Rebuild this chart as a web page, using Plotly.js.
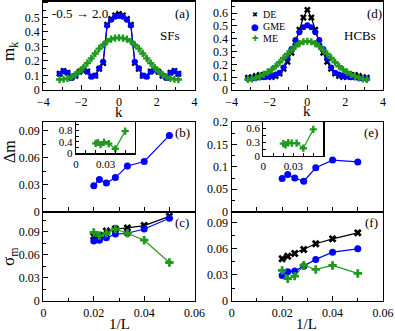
<!DOCTYPE html>
<html>
<head>
<meta charset="utf-8">
<script src="https://cdn.plot.ly/plotly-3.0.1.min.js"></script>
<style>
  body { margin: 0; background: white; }
  #plot { width: 395px; height: 331px; }
</style>
</head>
<body>
<div id="plot"></div>
<script>
// momentum grid k (2*pi*j/L)
const k = [-3.1416,-2.9322,-2.7227,-2.5133,-2.3038,-2.0944,-1.8850,-1.6755,-1.4661,-1.2566,-1.0472,-0.8378,-0.6283,-0.4189,-0.2094,0,
           0.2094,0.4189,0.6283,0.8378,1.0472,1.2566,1.4661,1.6755,1.8850,2.0944,2.3038,2.5133,2.7227,2.9322,3.1416];

// panel (a): SFs, m_k
const sfDE  = [0.112,0.132,0.120,0.085,0.098,0.125,0.138,0.128,0.095,0.098,0.145,0.185,0.450,0.490,0.515,0.525,
               0.515,0.490,0.450,0.185,0.145,0.098,0.095,0.128,0.138,0.125,0.098,0.085,0.120,0.132,0.112];
const sfGME = [0.110,0.130,0.118,0.082,0.100,0.128,0.140,0.125,0.092,0.100,0.150,0.195,0.445,0.485,0.505,0.510,
               0.505,0.485,0.445,0.195,0.150,0.100,0.092,0.125,0.140,0.128,0.100,0.082,0.118,0.130,0.110];
const sfME  = [0.072,0.074,0.080,0.090,0.106,0.128,0.155,0.185,0.218,0.252,0.285,0.312,0.335,0.350,0.357,0.360,
               0.357,0.350,0.335,0.312,0.285,0.252,0.218,0.185,0.155,0.128,0.106,0.090,0.080,0.074,0.072];

// panel (d): HCBs, m_k
const hcbDE  = [0.096,0.100,0.110,0.118,0.112,0.102,0.100,0.108,0.128,0.165,0.220,0.290,0.370,0.470,0.565,0.625,
                0.565,0.470,0.370,0.290,0.220,0.165,0.128,0.108,0.100,0.102,0.112,0.118,0.110,0.100,0.096];
const hcbGME = [0.088,0.090,0.093,0.097,0.100,0.105,0.110,0.120,0.135,0.175,0.245,0.320,0.390,0.450,0.490,0.505,
                0.490,0.450,0.390,0.320,0.245,0.175,0.135,0.120,0.110,0.105,0.100,0.097,0.093,0.090,0.088];
const hcbME  = [0.082,0.087,0.095,0.107,0.122,0.140,0.160,0.185,0.216,0.250,0.282,0.312,0.340,0.362,0.376,0.380,
                0.376,0.362,0.340,0.312,0.282,0.250,0.216,0.185,0.160,0.140,0.122,0.107,0.095,0.087,0.082];

// 1/L for L = 50, 45, 40, 35, 30, 25, 20
const invL = [0.02, 0.02222, 0.025, 0.02857, 0.03333, 0.04, 0.05];

// panels (b), (e): Delta m (main = GME, inset = ME)
const dmSF_GME  = [0.029, 0.036, 0.032, 0.038, 0.051, 0.056, 0.085];
const dmSF_ME   = [0.35, 0.38, 0.30, 0.39, 0.34, 0.16, 0.78];
const dmHCB_GME = [0.074, 0.083, 0.075, 0.068, 0.098, 0.115, 0.111];
const dmHCB_ME  = [0.27, 0.24, 0.29, 0.28, 0.28, 0.17, 0.58];

// panels (c), (f): sigma_m
const sigSF_DE   = [0.084, 0.085, 0.091, 0.0935, 0.095, 0.098, 0.110];
const sigSF_GME  = [0.078, 0.079, 0.082, 0.087, 0.088, 0.0935, 0.1075];
const sigSF_ME   = [0.089, 0.085, 0.088, 0.0935, 0.088, 0.079, 0.050];
const sigHCB_DE  = [0.0487, 0.0517, 0.0548, 0.0594, 0.066, 0.0717, 0.0786];
const sigHCB_GME = [0.0295, 0.0338, 0.0345, 0.0402, 0.048, 0.0563, 0.0602];
const sigHCB_ME  = [0.0353, 0.0257, 0.0287, 0.0414, 0.0364, 0.041, 0.0318];

const BLACK = '#000000', BLUE = '#0000ff', GREEN = '#1f991f';
const FONT = 'Liberation Serif, Times New Roman, serif';

function series(x, y, color, symbol, size, xa, ya) {
    return {
        x: x, y: y, xaxis: xa, yaxis: ya, mode: 'lines+markers', showlegend: false,
        line: {color: color, width: 1.2},
        marker: {color: color, symbol: symbol, size: size, line: {width: 0}}
    };
}

const data = [
    series(k, sfDE, BLACK, 'x', 6, 'x', 'y'),
    series(k, sfGME, BLUE, 'circle', 6, 'x', 'y'),
    series(k, sfME, GREEN, 'cross', 6, 'x', 'y'),
    series(k, hcbDE, BLACK, 'x', 6, 'x2', 'y2'),
    series(k, hcbGME, BLUE, 'circle', 6, 'x2', 'y2'),
    series(k, hcbME, GREEN, 'cross', 6, 'x2', 'y2'),
    series(invL, dmSF_GME, BLUE, 'circle', 7, 'x3', 'y3'),
    series(invL, dmHCB_GME, BLUE, 'circle', 7, 'x4', 'y4'),
    series(invL, sigSF_DE, BLACK, 'x', 7, 'x5', 'y5'),
    series(invL, sigSF_GME, BLUE, 'circle', 7, 'x5', 'y5'),
    series(invL, sigSF_ME, GREEN, 'cross', 7, 'x5', 'y5'),
    series(invL, sigHCB_DE, BLACK, 'x', 7, 'x6', 'y6'),
    series(invL, sigHCB_GME, BLUE, 'circle', 7, 'x6', 'y6'),
    series(invL, sigHCB_ME, GREEN, 'cross', 7, 'x6', 'y6'),
    series(invL, dmSF_ME, GREEN, 'cross', 6, 'x7', 'y7'),
    series(invL, dmHCB_ME, GREEN, 'cross', 6, 'x8', 'y8')
];

function ax(extra, minorDtick, size) {
    const a = {
        showline: true, mirror: true, linecolor: 'black', linewidth: 1.2,
        ticks: 'inside', ticklen: 5, tickwidth: 1, tickcolor: 'black',
        zeroline: false, showgrid: false, fixedrange: true,
        tickfont: {family: FONT, size: size || 12, color: 'black'}
    };
    if (minorDtick) {
        a.minor = {ticks: 'inside', ticklen: 3, tickcolor: 'black', dtick: minorDtick, showgrid: false};
    }
    return Object.assign(a, extra);
}

const W = 395, H = 331;
const XL = [43.4 / W, 194.6 / W], XR = [231.7 / W, 383 / W];
const YT = [1 - 90 / H, 1 - 1.5 / H], YM = [1 - 211.7 / H, 1 - 122 / H], YB = [1 - 301 / H, 1 - 211.7 / H];

const layout = {
    width: W, height: H,
    margin: {l: 0, r: 0, t: 0, b: 0},
    paper_bgcolor: 'white', plot_bgcolor: 'white',
    font: {family: FONT, color: 'black'},
    xaxis:  ax({domain: XL, range: [-4, 4], dtick: 2, anchor: 'y'}, 1),
    yaxis:  ax({domain: YT, range: [0, 0.61], dtick: 0.1, anchor: 'x'}, 0.05),
    xaxis2: ax({domain: XR, range: [-4, 4], dtick: 2, anchor: 'y2'}, 1),
    yaxis2: ax({domain: YT, range: [0, 0.69], dtick: 0.1, anchor: 'x2'}, 0.05),
    xaxis3: ax({domain: XL, range: [0, 0.06], dtick: 0.01, showticklabels: false, anchor: 'y3'}),
    yaxis3: ax({domain: YM, range: [0, 0.1], dtick: 0.03, anchor: 'x3'}, 0.015),
    xaxis4: ax({domain: XR, range: [0, 0.06], dtick: 0.01, showticklabels: false, anchor: 'y4'}),
    yaxis4: ax({domain: YM, range: [0, 0.2], dtick: 0.05, anchor: 'x4'}, 0.025),
    xaxis5: ax({domain: XL, range: [0, 0.06], dtick: 0.02, anchor: 'y5'}, 0.01),
    yaxis5: ax({domain: YB, range: [0, 0.116], dtick: 0.03, anchor: 'x5'}, 0.015),
    xaxis6: ax({domain: XR, range: [0, 0.06], dtick: 0.02, anchor: 'y6'}, 0.01),
    yaxis6: ax({domain: YB, range: [0, 0.103], dtick: 0.03, anchor: 'x6'}, 0.015),
    // insets
    xaxis7: ax({domain: [76 / W, 135 / W], range: [0, 0.06], tickvals: [0, 0.03],
                ticklen: 3, anchor: 'y7'}, 0.01, 11),
    yaxis7: ax({domain: [1 - 153.3 / H, 1 - 122 / H], range: [0, 1.1], dtick: 0.4, ticklen: 3, anchor: 'x7'}, 0.2, 11),
    xaxis8: ax({domain: [263.3 / W, 323.3 / W], range: [0, 0.06], tickvals: [0, 0.03],
                ticklen: 3, anchor: 'y8'}, 0.01, 11),
    yaxis8: ax({domain: [1 - 156 / H, 1 - 122 / H], range: [0, 0.74], dtick: 0.3, ticklen: 3, anchor: 'x8'}, 0.15, 11),
    annotations: []
};

function note(text, px, py, size, opts) {
    layout.annotations.push(Object.assign({
        text: text, xref: 'paper', yref: 'paper', x: px / W, y: 1 - py / H,
        showarrow: false, font: {family: FONT, size: size, color: 'black'},
        xanchor: 'center', yanchor: 'middle'
    }, opts || {}));
}

// panel labels
note('(a)', 182, 13, 13);
note('(d)', 374, 13, 13);
note('(b)', 182, 132, 13);
note('(e)', 371, 132, 13);
note('(c)', 182, 222, 13);
note('(f)', 371, 222, 13);
note('SFs', 170, 35, 13);
note('HCBs', 360, 35, 13);
note('-0.5 \u2192 2.0', 50, 13, 13, {xanchor: 'left'});

// axis titles
note('m<sub>k</sub>', 10, 52, 17, {textangle: -90});
note('\u0394m', 10, 152, 16, {textangle: -90});
note('\u03c3<sub>m</sub>', 10, 257, 17, {textangle: -90});
note('k', 119, 112, 15);
note('k', 307, 111, 15);
note('1/L', 119, 324, 15);
note('1/L', 306, 324, 15);

// legend of panel (d)
note('\u2716', 255, 15, 7, {font: {family: 'DejaVu Sans', size: 7, color: BLACK}});
note('\u25cf', 255, 26.5, 9, {font: {family: 'DejaVu Sans', size: 9, color: BLUE}});
note('\u271a', 255, 38, 8, {font: {family: 'DejaVu Sans', size: 8, color: GREEN}});
note('DE', 261, 15, 10, {xanchor: 'left'});
note('GME', 261, 26.5, 10, {xanchor: 'left'});
note('ME', 261, 38, 10, {xanchor: 'left'});

Plotly.newPlot('plot', data, layout, {staticPlot: true});
</script>
</body>
</html>
